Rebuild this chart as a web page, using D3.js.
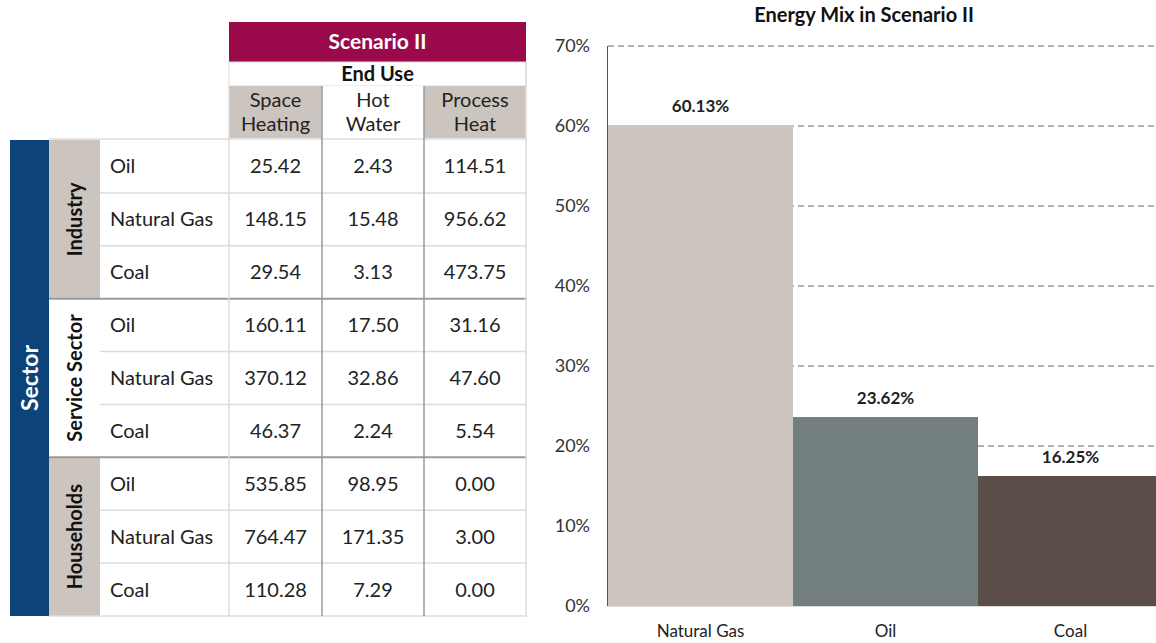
<!DOCTYPE html>
<html>
<head>
<meta charset="utf-8">
<script src="https://cdn.jsdelivr.net/npm/d3@7"></script>
<style>
  html, body { margin: 0; padding: 0; background: #fff; }
  svg { display: block; font-family: Lato, "Open Sans", sans-serif; }
</style>
</head>
<body>
<svg id="chart" width="1156" height="643"></svg>
<script>
// ---- Table data ----
const scenarioTitle = "Scenario II";
const endUseTitle = "End Use";
const endUses = [["Space", "Heating"], ["Hot", "Water"], ["Process", "Heat"]];
const sectors = ["Industry", "Service Sector", "Households"];
const fuels = ["Oil", "Natural Gas", "Coal"];
const spaceHeating = [25.42, 148.15, 29.54, 160.11, 370.12, 46.37, 535.85, 764.47, 110.28];
const hotWater = [2.43, 15.48, 3.13, 17.50, 32.86, 2.24, 98.95, 171.35, 7.29];
const processHeat = [114.51, 956.62, 473.75, 31.16, 47.60, 5.54, 0.00, 3.00, 0.00];

// ---- Bar chart data ----
const chartTitle = "Energy Mix in Scenario II";
const mixCategories = ["Natural Gas", "Oil", "Coal"];
const mixShares = [60.13, 23.62, 16.25];
const yTicks = [0, 10, 20, 30, 40, 50, 60, 70];

const svg = d3.select("#chart");
const FONT = "Lato, 'Open Sans', sans-serif";

// ================= TABLE =================
const T = { left: 10, sectorW: 39, subW: 51, right: 526, top: 140, bottom: 616 };
const colEdges = [229, 322, 424, 526];
const columns = [spaceHeating, hotWater, processHeat];
const rowY = d3.scaleBand().domain(d3.range(sectors.length * fuels.length)).range([T.top, T.bottom]);
const groupY = d3.scaleBand().domain(sectors).range([T.top, T.bottom]);
const gray = "#ccc5bf";
const tbl = svg.append("g");

// header: scenario band
tbl.append("rect").attr("x", 229).attr("y", 22).attr("width", 297).attr("height", 40).attr("fill", "#9a0a4b");
tbl.append("text").attr("x", 377.5).attr("y", 49).attr("text-anchor", "middle")
  .attr("fill", "#fff").attr("font-size", 21).attr("font-weight", 700).text(scenarioTitle);
tbl.append("rect").attr("x", 229).attr("y", 62).attr("width", 297).attr("height", 24)
  .attr("fill", "#fff").attr("stroke", "#ddd");
tbl.append("text").attr("x", 377.5).attr("y", 81).attr("text-anchor", "middle")
  .attr("fill", "#111").attr("font-size", 20).attr("font-weight", 700).text(endUseTitle);

// header: end-use column titles
endUses.forEach((lines, i) => {
  const x0 = colEdges[i], x1 = colEdges[i + 1];
  tbl.append("rect").attr("x", x0).attr("y", 86).attr("width", x1 - x0).attr("height", 52)
    .attr("fill", i === 1 ? "#fff" : gray);
  const t = tbl.append("text").attr("text-anchor", "middle").attr("fill", "#222").attr("font-size", 20);
  lines.forEach((l, k) => t.append("tspan").attr("x", (x0 + x1) / 2).attr("y", 107 + k * 24).text(l));
});

// Sector band
tbl.append("rect").attr("x", T.left).attr("y", T.top).attr("width", T.sectorW).attr("height", T.bottom - T.top)
  .attr("fill", "#0c4479");
tbl.append("text")
  .attr("transform", `translate(${T.left + T.sectorW / 2 + 8},${(T.top + T.bottom) / 2}) rotate(-90)`)
  .attr("text-anchor", "middle").attr("fill", "#fff").attr("font-size", 23).attr("font-weight", 700).text("Sector");

// Sub-sector bands
const subX = T.left + T.sectorW;
sectors.forEach((s, i) => {
  const y0 = groupY(s), h = groupY.bandwidth();
  tbl.append("rect").attr("x", subX).attr("y", y0).attr("width", T.subW).attr("height", h)
    .attr("fill", i === 1 ? "#fff" : gray);
  tbl.append("text")
    .attr("transform", `translate(${subX + T.subW / 2 + 7},${y0 + h / 2}) rotate(-90)`)
    .attr("text-anchor", "middle").attr("fill", "#111").attr("font-size", 20).attr("font-weight", 700).text(s);
});

// Fuel labels and values
const fuelX = subX + T.subW;
d3.range(9).forEach(r => {
  const y0 = rowY(r), h = rowY.bandwidth();
  tbl.append("rect").attr("x", fuelX).attr("y", y0).attr("width", T.right - fuelX).attr("height", h)
    .attr("fill", "#fff");
  tbl.append("text").attr("x", fuelX + 10).attr("y", y0 + h / 2 + 7)
    .attr("fill", "#222").attr("font-size", 20).text(fuels[r % 3]);
  columns.forEach((col, c) => {
    tbl.append("text").attr("x", (colEdges[c] + colEdges[c + 1]) / 2).attr("y", y0 + h / 2 + 7)
      .attr("text-anchor", "middle").attr("fill", "#222").attr("font-size", 20).text(col[r].toFixed(2));
  });
});

// grid lines
d3.range(1, 9).forEach(r => {
  const yy = rowY(r);
  const major = r % 3 === 0;
  tbl.append("line").attr("x1", major ? subX : fuelX).attr("x2", T.right + 1).attr("y1", yy).attr("y2", yy)
    .attr("stroke", major ? "#9a9a9a" : "#dcdcdc").attr("stroke-width", major ? 2 : 1.5);
});
[T.top - 1, T.bottom].forEach(yy =>
  tbl.append("line").attr("x1", subX).attr("x2", T.right + 1).attr("y1", yy).attr("y2", yy)
    .attr("stroke", "#dcdcdc").attr("stroke-width", 1.5));
tbl.append("line").attr("x1", colEdges[0]).attr("x2", colEdges[0]).attr("y1", 86).attr("y2", T.bottom)
  .attr("stroke", "#dcdcdc").attr("stroke-width", 1.5);
[colEdges[1], colEdges[2]].forEach(xx =>
  tbl.append("line").attr("x1", xx).attr("x2", xx).attr("y1", 86).attr("y2", T.bottom)
    .attr("stroke", "#9a9a9a").attr("stroke-width", 1.5));
tbl.append("line").attr("x1", T.right).attr("x2", T.right).attr("y1", 62).attr("y2", T.bottom)
  .attr("stroke", "#dcdcdc").attr("stroke-width", 1.5);

// ================= BAR CHART =================
const y = d3.scaleLinear().domain([0, 70]).range([606, 46]);
const x = d3.scaleBand().domain(mixCategories).range([608, 1163]).padding(0);
const barColors = d3.scaleOrdinal().domain(mixCategories).range(["#cdc5bf", "#737e7f", "#5b4e49"]);
const ch = svg.append("g");

ch.append("text").attr("x", 864).attr("y", 22).attr("text-anchor", "middle")
  .attr("font-size", 20).attr("font-weight", 700).attr("fill", "#111").text(chartTitle);

// y axis tick labels
const yAxis = d3.axisLeft(y).tickValues(yTicks).tickFormat(d => d + "%").tickSize(0).tickPadding(18);
const ga = ch.append("g").attr("transform", "translate(608,0)").call(yAxis);
ga.select(".domain").remove();
ga.selectAll("text").attr("font-size", 18).attr("fill", "#333").attr("font-family", FONT);

// dashed gridlines
ch.append("g").selectAll("line").data(yTicks.filter(d => d > 0)).join("line")
  .attr("x1", 608).attr("x2", 1156).attr("y1", d => y(d)).attr("y2", d => y(d))
  .attr("stroke", "#999").attr("stroke-width", 1.3).attr("stroke-dasharray", "6,4");

// bars
ch.append("g").selectAll("rect").data(mixCategories).join("rect")
  .attr("x", d => x(d)).attr("width", x.bandwidth())
  .attr("y", (d, i) => y(mixShares[i])).attr("height", (d, i) => y(0) - y(mixShares[i]))
  .attr("fill", d => barColors(d));

// value labels
ch.append("g").selectAll("text").data(mixCategories).join("text")
  .attr("x", d => x(d) + x.bandwidth() / 2)
  .attr("y", (d, i) => y(mixShares[i]) - 13)
  .attr("text-anchor", "middle").attr("font-size", 17).attr("font-weight", 700).attr("fill", "#222")
  .text((d, i) => mixShares[i].toFixed(2) + "%");

// axis lines
ch.append("line").attr("x1", 607.5).attr("x2", 607.5).attr("y1", 46).attr("y2", 606).attr("stroke", "#555");
ch.append("line").attr("x1", 607).attr("x2", 1156).attr("y1", 606.5).attr("y2", 606.5).attr("stroke", "#ddd");

// x axis labels
const xAxis = d3.axisBottom(x).tickSize(0).tickPadding(19);
const gx = ch.append("g").attr("transform", "translate(0,606)").call(xAxis);
gx.select(".domain").remove();
gx.selectAll("text").attr("font-size", 17).attr("fill", "#222").attr("font-family", FONT);
</script>
</body>
</html>
